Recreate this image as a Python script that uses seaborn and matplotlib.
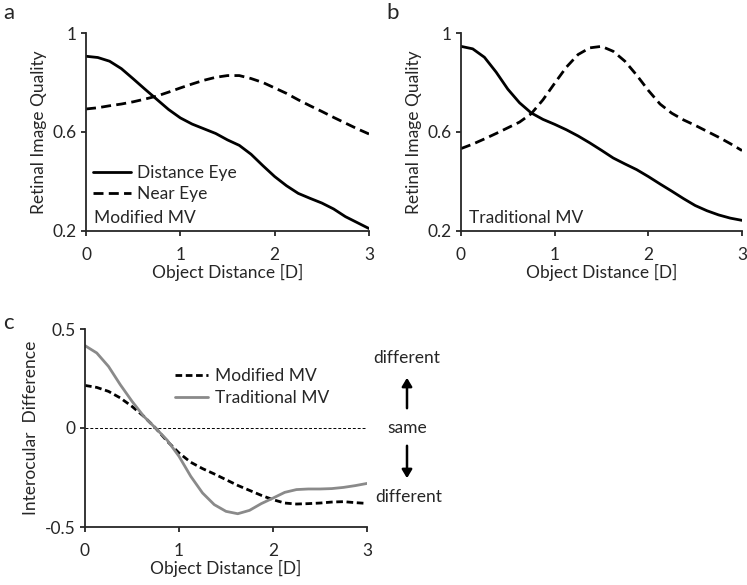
import numpy as np
import pandas as pd
import matplotlib
matplotlib.use("Agg")
import matplotlib.pyplot as plt
import seaborn as sns

# object distance [D], read every 1/8 D from the picture
dist = [0, 0.125, 0.25, 0.375, 0.5, 0.625, 0.75, 0.875, 1.0, 1.125, 1.25, 1.375, 1.5,
        1.625, 1.75, 1.875, 2.0, 2.125, 2.25, 2.375, 2.5, 2.625, 2.75, 2.875, 3.0]

# panel a - modified monovision
a_distance_eye = [0.906, 0.901, 0.886, 0.856, 0.815, 0.773, 0.732, 0.691, 0.657, 0.632, 0.613, 0.594, 0.568,
                  0.546, 0.510, 0.464, 0.420, 0.383, 0.352, 0.332, 0.313, 0.289, 0.258, 0.234, 0.210]
a_near_eye = [0.693, 0.698, 0.706, 0.713, 0.722, 0.733, 0.745, 0.761, 0.778, 0.794, 0.809, 0.821, 0.828,
              0.828, 0.816, 0.800, 0.778, 0.756, 0.730, 0.706, 0.683, 0.659, 0.636, 0.613, 0.592]

# panel b - traditional monovision
b_distance_eye = [0.946, 0.936, 0.902, 0.842, 0.773, 0.718, 0.677, 0.651, 0.631, 0.609, 0.584, 0.556, 0.526,
                  0.495, 0.471, 0.448, 0.420, 0.390, 0.361, 0.331, 0.303, 0.282, 0.265, 0.252, 0.243]
b_near_eye = [0.533, 0.551, 0.572, 0.594, 0.617, 0.640, 0.674, 0.730, 0.797, 0.862, 0.913, 0.940, 0.946,
              0.926, 0.886, 0.830, 0.768, 0.713, 0.676, 0.649, 0.627, 0.603, 0.579, 0.553, 0.525]

# panel c - interocular difference
c_modified = [0.215, 0.205, 0.185, 0.152, 0.109, 0.059, 0.000, -0.067, -0.126, -0.173, -0.205, -0.232, -0.261,
              -0.290, -0.315, -0.340, -0.362, -0.379, -0.384, -0.382, -0.379, -0.374, -0.372, -0.377, -0.381]
c_traditional = [0.416, 0.379, 0.311, 0.219, 0.135, 0.059, 0.000, -0.062, -0.143, -0.244, -0.328, -0.387, -0.421,
                 -0.433, -0.416, -0.382, -0.354, -0.325, -0.311, -0.308, -0.308, -0.306, -0.300, -0.291, -0.280]

FS = 12.5
sns.set_style("ticks")
plt.rcParams["font.family"] = ["Lato", "DejaVu Sans"]
plt.rcParams["font.size"] = FS

fig = plt.figure(figsize=(7.47, 5.85), dpi=100)
ax_a = fig.add_axes([86 / 747, 1 - 231 / 585, 283 / 747, 198 / 585])
ax_b = fig.add_axes([461 / 747, 1 - 231 / 585, 281 / 747, 198 / 585])
ax_c = fig.add_axes([85 / 747, 1 - 527 / 585, 282 / 747, 198 / 585])


def eye_frame(d_eye, n_eye):
    return pd.DataFrame({
        "dist": dist * 2,
        "quality": d_eye + n_eye,
        "eye": ["Distance Eye"] * len(dist) + ["Near Eye"] * len(dist),
    })


for ax, d_eye, n_eye, tag in [(ax_a, a_distance_eye, a_near_eye, "Modified MV"),
                              (ax_b, b_distance_eye, b_near_eye, "Traditional MV")]:
    df = eye_frame(d_eye, n_eye)
    sns.lineplot(data=df, x="dist", y="quality", style="eye", ax=ax, color="black",
                 dashes={"Distance Eye": "", "Near Eye": (3.6, 1.9)}, linewidth=2.0,
                 legend=(ax is ax_a))
    ax.set_xlim(0, 3)
    ax.set_ylim(0.2, 1)
    ax.set_xticks([0, 1, 2, 3])
    ax.set_yticks([0.2, 0.6, 1])
    ax.set_yticklabels(["0.2", "0.6", "1"])
    ax.set_xlabel("Object Distance [D]", labelpad=1)
    ax.set_ylabel("Retinal Image Quality")
    ax.text(0.03, 0.065, tag, transform=ax.transAxes, fontsize=FS, va="center")

ax_a.legend(loc="upper left", bbox_to_anchor=(0.0, 0.37), frameon=False,
            handlelength=2.2, handletextpad=0.35, labelspacing=0.3, borderaxespad=0)

# panel c
dfc = pd.DataFrame({
    "dist": dist * 2,
    "diff": c_modified + c_traditional,
    "mode": ["Modified MV"] * len(dist) + ["Traditional MV"] * len(dist),
})
ax_c.axhline(0, color="black", linewidth=0.7, linestyle=(0, (3, 2)))
sns.lineplot(data=dfc, x="dist", y="diff", hue="mode", style="mode", ax=ax_c,
             palette={"Modified MV": "black", "Traditional MV": "#8a8a8a"},
             dashes={"Modified MV": (2.4, 1.3), "Traditional MV": ""}, linewidth=2.0)
ax_c.set_xlim(0, 3)
ax_c.set_ylim(-0.5, 0.5)
ax_c.set_xticks([0, 1, 2, 3])
ax_c.set_yticks([-0.5, 0, 0.5])
ax_c.set_yticklabels(["-0.5", "0", "0.5"])
ax_c.set_xlabel("Object Distance [D]", labelpad=1)
ax_c.set_ylabel("Interocular  Difference")
ax_c.legend(loc="upper left", bbox_to_anchor=(0.294, 0.84), frameon=False,
            handlelength=1.9, handletextpad=0.4, labelspacing=0.35, borderaxespad=0)

# annotations at right of panel c
ax_x = 407 / 747
fig.text(ax_x, 1 - 358 / 585, "different", ha="center", va="center", fontsize=FS)
fig.text(ax_x, 1 - 428 / 585, "same", ha="center", va="center", fontsize=FS)
fig.text(ax_x + 2 / 747, 1 - 497 / 585, "different", ha="center", va="center", fontsize=FS)
fig.patches.append(matplotlib.patches.FancyArrowPatch(
    (ax_x, 1 - 411 / 585), (ax_x, 1 - 375 / 585), transform=fig.transFigure,
    arrowstyle="-|>,head_length=5,head_width=3", color="black", linewidth=1.8))
fig.patches.append(matplotlib.patches.FancyArrowPatch(
    (ax_x, 1 - 443 / 585), (ax_x, 1 - 481 / 585), transform=fig.transFigure,
    arrowstyle="-|>,head_length=5,head_width=3", color="black", linewidth=1.8))

for ax in (ax_a, ax_b, ax_c):
    sns.despine(ax=ax)
    for s in ("left", "bottom"):
        ax.spines[s].set_linewidth(1.3)
    ax.tick_params(width=1.3, length=3.5, labelsize=FS)
    ax.tick_params(axis="x", pad=8)
    ax.tick_params(axis="y", pad=3.5)
    ax.xaxis.label.set_size(FS)
    ax.yaxis.label.set_size(FS)

fig.text(3 / 747, 1 - 13 / 585, "a", fontsize=16, va="center")
fig.text(386 / 747, 1 - 13 / 585, "b", fontsize=16, va="center")
fig.text(3 / 747, 1 - 323 / 585, "c", fontsize=16, va="center")

fig.savefig("out.png", dpi=100, facecolor="white")
